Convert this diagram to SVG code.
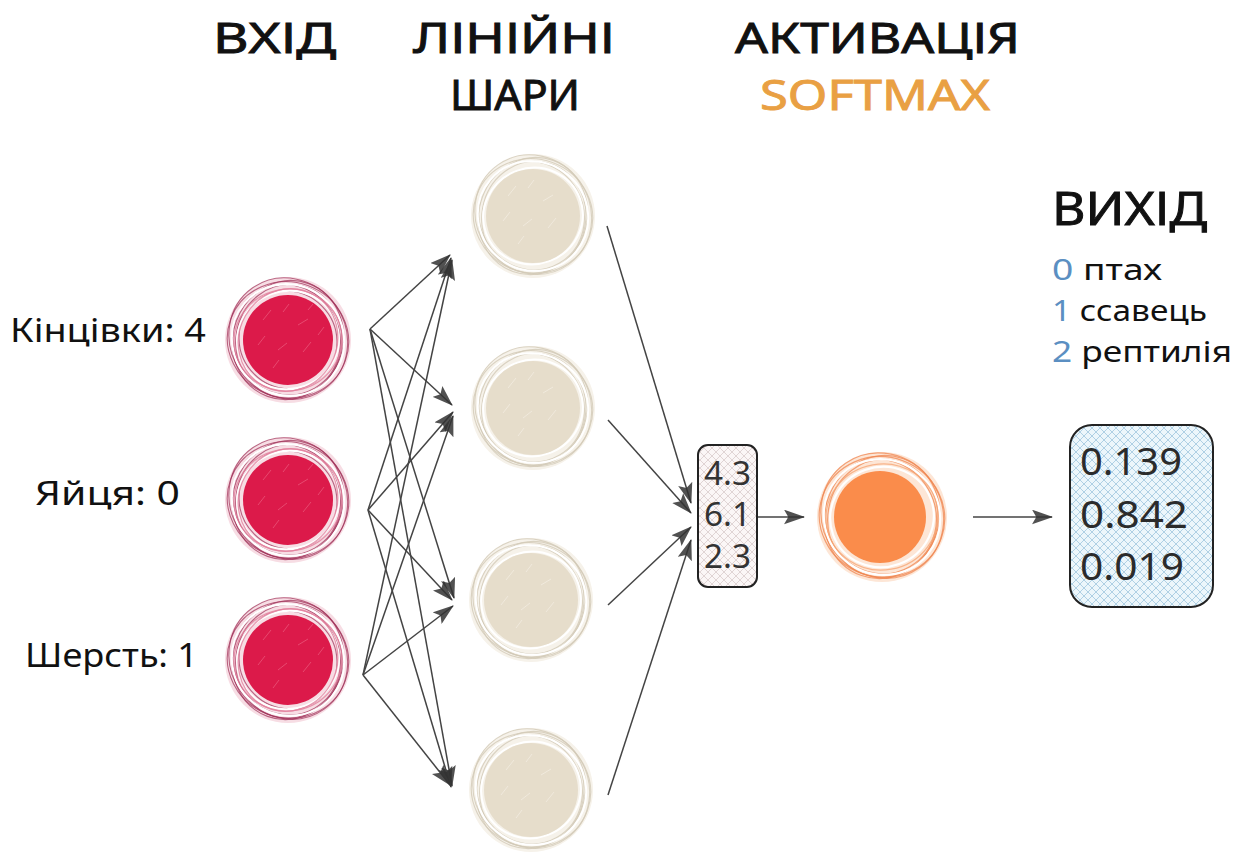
<svg xmlns="http://www.w3.org/2000/svg" width="1235" height="864" viewBox="0 0 1235 864">
<style>
  .hdr { font-family: "Noto Sans", "DejaVu Sans", sans-serif; font-size: 41px; fill: #111; stroke: #111; stroke-width: 0.9; }
  .lbl { font-family: "Noto Sans", "DejaVu Sans", sans-serif; font-size: 32px; fill: #111; }
  .val { font-family: "Noto Sans", "DejaVu Sans", sans-serif; font-size: 33px; fill: #333; }
  .out { font-family: "Noto Sans", "DejaVu Sans", sans-serif; font-size: 38px; fill: #2b2b2b; }
  .leg { font-family: "Noto Sans", "DejaVu Sans", sans-serif; font-size: 29px; fill: #111; }
  .num { fill: #5b8fc2; }
  .conn { stroke: #444; stroke-width: 1.5; fill: none; marker-end: url(#arr); }
  .box { stroke: #222; stroke-width: 2; }
</style>
<defs>
  <marker id="arr" viewBox="0 0 20 14" refX="19" refY="7" markerWidth="21" markerHeight="15" markerUnits="userSpaceOnUse" orient="auto">
    <path d="M0,0 L20,7 L0,14 L4,7 Z" fill="#333" fill-opacity="0.85"/>
  </marker>
  <pattern id="hatchPink" width="8" height="8" patternUnits="userSpaceOnUse">
    <rect width="8" height="8" fill="#fbf6f6"/>
    <path d="M0,0 L8,8 M8,0 L0,8" stroke="#d9cccc" stroke-width="0.8"/>
  </pattern>
  <pattern id="hatchBlue" width="8" height="8" patternUnits="userSpaceOnUse">
    <rect width="8" height="8" fill="#ecf6fb"/>
    <path d="M0,0 L8,8 M8,0 L0,8" stroke="#9fc6de" stroke-width="0.8"/>
  </pattern>
  <g id="nodeRed">
    <circle r="63" fill="#f7dde4"/>
    <g fill="none" stroke="#9e2e55" stroke-width="1.1" stroke-opacity="0.7">
      <ellipse rx="61" ry="58" transform="rotate(20)"/>
      <ellipse rx="58" ry="62" transform="rotate(-35) translate(1,-1)"/>
      <ellipse rx="56" ry="53" transform="rotate(60) translate(-1,1)"/>
      <ellipse rx="53" ry="57" transform="rotate(10) translate(1,1)"/>
      <ellipse rx="60" ry="55" transform="rotate(-70)"/>
      <ellipse rx="50" ry="48" transform="rotate(45)"/>
    </g>
    <g fill="none" stroke="#ffffff" stroke-width="2.2">
      <ellipse rx="57" ry="55" transform="rotate(40)"/>
      <ellipse rx="51" ry="49" transform="rotate(-20)"/>
    </g>
    <g fill="none" stroke="#e2809c" stroke-width="1.3" stroke-opacity="0.8">
      <ellipse rx="54" ry="51" transform="rotate(-10)"/>
      <ellipse rx="49" ry="52" transform="rotate(30)"/>
    </g>
    <circle r="45" fill="#dc1a4a"/>
    <g fill="none" stroke="#f0708e" stroke-width="1" stroke-opacity="0.55">
      <path d="M-25,-20 l8,-10 M-5,-28 l6,-8 M10,-15 l10,-6 M-30,5 l7,-9 M-10,10 l9,-7 M15,12 l8,-10 M-15,28 l6,-8 M20,-30 l5,-6 M30,-5 l6,-8"/>
    </g>
  </g>
  <g id="nodeBeige">
    <circle r="62" fill="#f6f2ea"/>
    <g fill="none" stroke="#d2c9b7" stroke-width="1.1" stroke-opacity="0.8">
      <ellipse rx="60" ry="57" transform="rotate(20)"/>
      <ellipse rx="57" ry="61" transform="rotate(-35) translate(1,-1)"/>
      <ellipse rx="55" ry="52" transform="rotate(60) translate(-1,1)"/>
      <ellipse rx="52" ry="56" transform="rotate(10) translate(1,1)"/>
      <ellipse rx="59" ry="54" transform="rotate(-70)"/>
    </g>
    <g fill="none" stroke="#ffffff" stroke-width="2">
      <ellipse rx="56" ry="54" transform="rotate(40)"/>
      <ellipse rx="50" ry="48" transform="rotate(-20)"/>
    </g>
    <circle r="47" fill="#e6ddcb"/>
    <g fill="none" stroke="#f3eee4" stroke-width="1" stroke-opacity="0.7">
      <path d="M-25,-20 l8,-10 M-5,-28 l6,-8 M10,-15 l10,-6 M-30,5 l7,-9 M-10,10 l9,-7 M15,12 l8,-10 M-15,28 l6,-8"/>
    </g>
  </g>
  <g id="nodeOrange">
    <circle r="65" fill="#fde6d6"/>
    <g fill="none" stroke="#ef8650" stroke-width="1.2" stroke-opacity="0.75">
      <ellipse rx="63" ry="60" transform="rotate(20)"/>
      <ellipse rx="60" ry="64" transform="rotate(-35) translate(1,-1)"/>
      <ellipse rx="58" ry="55" transform="rotate(60) translate(-1,1)"/>
      <ellipse rx="55" ry="59" transform="rotate(10) translate(1,1)"/>
      <ellipse rx="62" ry="57" transform="rotate(-70)"/>
    </g>
    <g fill="none" stroke="#ffffff" stroke-width="2.2">
      <ellipse rx="59" ry="57" transform="rotate(40)"/>
      <ellipse rx="52" ry="50" transform="rotate(-20)"/>
    </g>
    <g fill="none" stroke="#f6a878" stroke-width="1.3" stroke-opacity="0.8">
      <ellipse rx="56" ry="53" transform="rotate(-10)"/>
    </g>
    <circle cx="-2" r="46" fill="#fa8c4b"/>
  </g>
</defs>

<rect width="1235" height="864" fill="#ffffff"/>

<g id="headers">
  <text class="hdr" x="213" y="53" textLength="123" lengthAdjust="spacingAndGlyphs">ВХІД</text>
  <text class="hdr" x="413" y="53" textLength="202" lengthAdjust="spacingAndGlyphs">ЛІНІЙНІ</text>
  <text class="hdr" x="450" y="110" textLength="130" lengthAdjust="spacingAndGlyphs">ШАРИ</text>
  <text class="hdr" x="735" y="53" textLength="285" lengthAdjust="spacingAndGlyphs">АКТИВАЦІЯ</text>
  <text class="hdr" x="760" y="110" textLength="230" lengthAdjust="spacingAndGlyphs" style="fill:#e9a043;stroke:#e9a043">SOFTMAX</text>
  <text class="hdr" x="1052" y="225" textLength="155" lengthAdjust="spacingAndGlyphs" style="font-size:46px">ВИХІД</text>
</g>

<g id="legend">
  <text class="leg" x="1052" y="280" textLength="110" lengthAdjust="spacingAndGlyphs"><tspan class="num">0</tspan> птах</text>
  <text class="leg" x="1052" y="321" textLength="155" lengthAdjust="spacingAndGlyphs"><tspan class="num">1</tspan> ссавець</text>
  <text class="leg" x="1052" y="362" textLength="180" lengthAdjust="spacingAndGlyphs"><tspan class="num">2</tspan> рептилія</text>
</g>

<g id="connectors">
  <line class="conn" x1="370" y1="329" x2="450" y2="255"/>
  <line class="conn" x1="370" y1="329" x2="452" y2="405"/>
  <line class="conn" x1="370" y1="329" x2="454" y2="598"/>
  <line class="conn" x1="370" y1="329" x2="452" y2="786"/>
  <line class="conn" x1="368" y1="510" x2="451" y2="258"/>
  <line class="conn" x1="368" y1="510" x2="453" y2="412"/>
  <line class="conn" x1="368" y1="510" x2="452" y2="600"/>
  <line class="conn" x1="368" y1="510" x2="451" y2="787"/>
  <line class="conn" x1="363" y1="675" x2="452" y2="260"/>
  <line class="conn" x1="363" y1="675" x2="453" y2="416"/>
  <line class="conn" x1="363" y1="675" x2="453" y2="606"/>
  <line class="conn" x1="363" y1="675" x2="450" y2="785"/>
  <line class="conn" x1="607" y1="226" x2="691" y2="503"/>
  <line class="conn" x1="608" y1="420" x2="691" y2="513"/>
  <line class="conn" x1="608" y1="605" x2="691" y2="527"/>
  <line class="conn" x1="608" y1="795" x2="691" y2="540"/>
  <line class="conn" x1="757" y1="517" x2="804" y2="517"/>
  <line class="conn" x1="973" y1="517" x2="1052" y2="517"/>
</g>

<g id="input-limbs">
  <use href="#nodeRed" x="288" y="340"/>
  <text class="lbl" x="10" y="342" textLength="196" lengthAdjust="spacingAndGlyphs">Кінцівки: 4</text>
</g>
<g id="input-eggs">
  <use href="#nodeRed" x="288" y="500"/>
  <text class="lbl" x="35" y="505" textLength="145" lengthAdjust="spacingAndGlyphs">Яйця: 0</text>
</g>
<g id="input-fur">
  <use href="#nodeRed" x="288" y="660"/>
  <text class="lbl" x="25" y="667" textLength="173" lengthAdjust="spacingAndGlyphs">Шерсть: 1</text>
</g>

<g id="hidden-1"><use href="#nodeBeige" x="533" y="216"/></g>
<g id="hidden-2"><use href="#nodeBeige" x="533" y="408"/></g>
<g id="hidden-3"><use href="#nodeBeige" x="531" y="600"/></g>
<g id="hidden-4"><use href="#nodeBeige" x="531" y="790"/></g>

<g id="logits">
  <rect class="box" x="698" y="445" width="59" height="142" rx="10" fill="url(#hatchPink)"/>
  <text class="val" x="704" y="485" textLength="47" lengthAdjust="spacingAndGlyphs">4.3</text>
  <text class="val" x="704" y="526" textLength="47" lengthAdjust="spacingAndGlyphs">6.1</text>
  <text class="val" x="704" y="568" textLength="47" lengthAdjust="spacingAndGlyphs">2.3</text>
</g>

<g id="softmax"><use href="#nodeOrange" x="882" y="517"/></g>

<g id="output">
  <rect class="box" x="1070" y="425" width="143" height="182" rx="22" fill="url(#hatchBlue)"/>
  <text class="out" x="1080" y="475" textLength="102" lengthAdjust="spacingAndGlyphs">0.139</text>
  <text class="out" x="1080" y="528" textLength="108" lengthAdjust="spacingAndGlyphs">0.842</text>
  <text class="out" x="1080" y="580" textLength="104" lengthAdjust="spacingAndGlyphs">0.019</text>
</g>
</svg>
